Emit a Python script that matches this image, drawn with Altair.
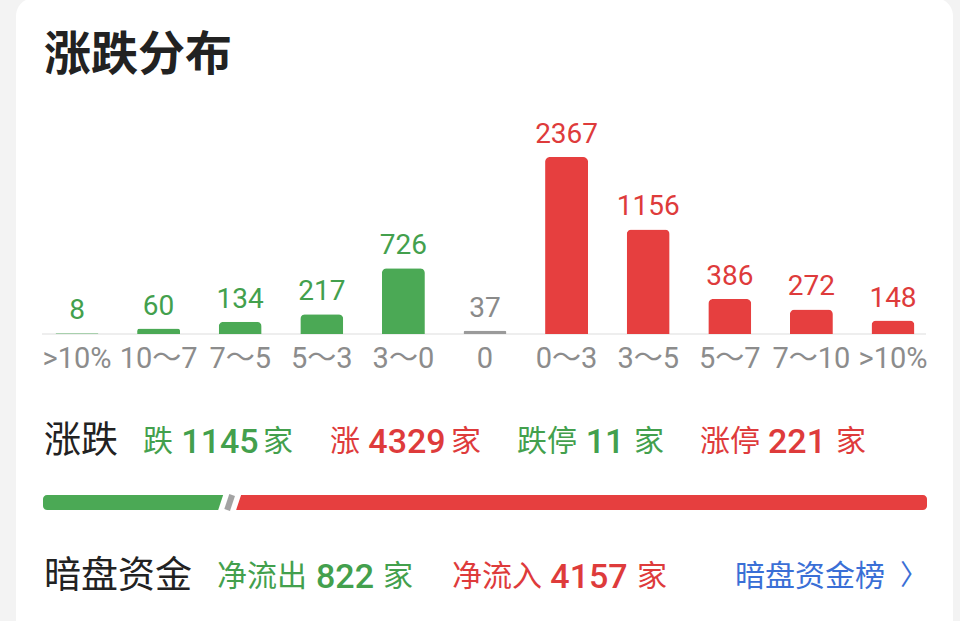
import altair as alt
import pandas as pd

# ---------------- data ----------------
bucket_labels = [">10%", "10～7", "7～5", "5～3", "3～0", "0", "0～3", "3～5", "5～7", "7～10", ">10%"]
bucket_counts = [8, 60, 134, 217, 726, 37, 2367, 1156, 386, 272, 148]
bucket_dirs = ["down", "down", "down", "down", "down", "flat", "up", "up", "up", "up", "up"]

stat_names = ["跌", "涨", "跌停", "涨停"]
stat_values = [1145, 4329, 11, 221]
stat_dirs = ["down", "up", "down", "up"]

flow_names = ["净流出", "净流入"]
flow_values = [822, 4157]
flow_dirs = ["down", "up"]

title_text = "涨跌分布"
row1_title = "涨跌"
row2_title = "暗盘资金"
unit_text = "家"
link_text = "暗盘资金榜"

# ---------------- styles ----------------
GREEN_BAR, RED_BAR, GRAY_BAR = "#4ba955", "#e63f3f", "#9a9a9a"
GREEN_TXT, RED_TXT, GRAY_TXT = "#43a04d", "#de3b3b", "#8a8a8a"
AXIS_TXT = "#8c8c8c"
DARK = "#222222"
BLUE = "#3a6fd6"
NUM_FONT = "Roboto, 'Noto Sans CJK SC'"
CJK_FONT = "'Noto Sans CJK SC'"
DIR_DOMAIN = ["down", "flat", "up"]
TXT_COLOR = {"down": GREEN_TXT, "up": RED_TXT, "flat": GRAY_TXT}

one = pd.DataFrame({"k": [0]})

# ---------------- card background ----------------
card = alt.Chart(one).mark_rect(color="white", cornerRadius=18).encode(
    x=alt.value(16), x2=alt.value(953), y=alt.value(-2), y2=alt.value(660)
)

title = alt.Chart(pd.DataFrame({"t": [title_text]})).mark_text(
    font=CJK_FONT, fontSize=47, fontWeight="bold", color=DARK, align="left", baseline="middle"
).encode(x=alt.value(44), y=alt.value(56), text="t:N")

# ---------------- distribution bars ----------------
bars_df = pd.DataFrame({
    "idx": list(range(len(bucket_labels))),
    "label": bucket_labels,
    "count": bucket_counts,
    "dir": bucket_dirs,
})
x_enc = alt.X("idx:O", scale=alt.Scale(type="point", range=[77, 893], padding=0), axis=None)
y_enc = alt.Y("count:Q", scale=alt.Scale(domain=[0, 1956], range=[334, 157], clamp=True), axis=None)

baseline = alt.Chart(one).mark_rule(color="#e9e9e9", strokeWidth=1.5).encode(
    x=alt.value(42), x2=alt.value(926), y=alt.value(334)
)

bars = alt.Chart(bars_df).mark_bar(size=43, cornerRadiusTopLeft=5, cornerRadiusTopRight=5).encode(
    x=x_enc, y=y_enc,
    color=alt.Color("dir:N", scale=alt.Scale(domain=DIR_DOMAIN, range=[GREEN_BAR, GRAY_BAR, RED_BAR]), legend=None),
)

value_labels = alt.Chart(bars_df).mark_text(
    font=NUM_FONT, fontSize=28, fontWeight="normal", dy=-14, baseline="alphabetic", align="center"
).encode(
    x=x_enc, y=y_enc,
    text=alt.Text("count:Q", format="d"),
    color=alt.Color("dir:N", scale=alt.Scale(domain=DIR_DOMAIN, range=[GREEN_TXT, GRAY_TXT, RED_TXT]), legend=None),
)

cat_labels = alt.Chart(bars_df).mark_text(
    font=NUM_FONT, fontSize=29, color=AXIS_TXT, baseline="middle", align="center"
).encode(x=x_enc, y=alt.value(359), text="label:N")

layers = [card, title, baseline, bars, value_labels, cat_labels]


def txt(value, x, y, size, color, font, align="left", weight="normal"):
    return alt.Chart(pd.DataFrame({"t": [value]})).mark_text(
        font=font, fontSize=size, color=color, align=align, baseline="middle", fontWeight=weight
    ).encode(x=alt.value(x), y=alt.value(y), text="t:N")


# ---------------- row 1: counts ----------------
ROW1_Y = 442
layers.append(txt(row1_title, 44, ROW1_Y, 37, DARK, CJK_FONT))
row1_pos = [(143, 220, 263), (330, 407, 451), (517, 605, 634), (700, 797, 836)]
for name, val, d, (px, nx, sx) in zip(stat_names, stat_values, stat_dirs, row1_pos):
    c = TXT_COLOR[d]
    layers.append(txt(name, px, ROW1_Y, 30, c, CJK_FONT))
    layers.append(txt(str(val), nx, ROW1_Y + 1, 34, c, NUM_FONT, align="center", weight=500))
    layers.append(txt(unit_text, sx, ROW1_Y, 30, c, CJK_FONT))

# ---------------- split bar ----------------
total = stat_values[0] + bucket_counts[5] + stat_values[1]
split_at = stat_values[0] + bucket_counts[5] / 2
split_df = pd.DataFrame({
    "start": [0, split_at],
    "end": [split_at, total],
    "dir": ["down", "up"],
})
xs = alt.Scale(domain=[0, total], range=[43, 927])
split_bars = alt.Chart(split_df).mark_rect(cornerRadius=4).encode(
    x=alt.X("start:Q", scale=xs, axis=None), x2="end:Q",
    y=alt.value(495), y2=alt.value(510),
    color=alt.Color("dir:N", scale=alt.Scale(domain=DIR_DOMAIN, range=[GREEN_BAR, GRAY_BAR, RED_BAR]), legend=None),
)
cut_df = pd.DataFrame({"pos": [split_at]})
white_cut = alt.Chart(cut_df).mark_rule(color="white", strokeWidth=17, xOffset=-3.8, x2Offset=3.8, strokeCap="butt").encode(
    x=alt.X("pos:Q", scale=xs, axis=None), x2="pos:Q", y=alt.value(514), y2=alt.value(491)
)
gray_cut = alt.Chart(cut_df).mark_rule(color="#a3a3a3", strokeWidth=6, xOffset=-2.5, x2Offset=2.5, strokeCap="butt").encode(
    x=alt.X("pos:Q", scale=xs, axis=None), x2="pos:Q", y=alt.value(510), y2=alt.value(495)
)
layers += [split_bars, white_cut, gray_cut]

# ---------------- row 2: dark-pool flows ----------------
ROW2_Y = 577
layers.append(txt(row2_title, 44, ROW2_Y, 37, DARK, CJK_FONT))
row2_pos = [(217, 345, 383), (452, 589, 637)]
for name, val, d, (px, nx, sx) in zip(flow_names, flow_values, flow_dirs, row2_pos):
    c = TXT_COLOR[d]
    layers.append(txt(name, px, ROW2_Y, 30, c, CJK_FONT))
    layers.append(txt(str(val), nx, ROW2_Y + 1, 34, c, NUM_FONT, align="center", weight=500))
    layers.append(txt(unit_text, sx, ROW2_Y, 30, c, CJK_FONT))
layers.append(txt(link_text, 735, ROW2_Y, 30, BLUE, CJK_FONT))
layers.append(txt("〉", 900, ROW2_Y, 28, BLUE, CJK_FONT))

chart = alt.layer(*layers).resolve_scale(
    x="independent", y="independent", color="independent"
).properties(
    width=960, height=621, padding=0, autosize="none", background="#f3f3f3"
).configure_view(stroke=None)

chart.save("out.html", embed_options={"renderer": "svg", "actions": False})
